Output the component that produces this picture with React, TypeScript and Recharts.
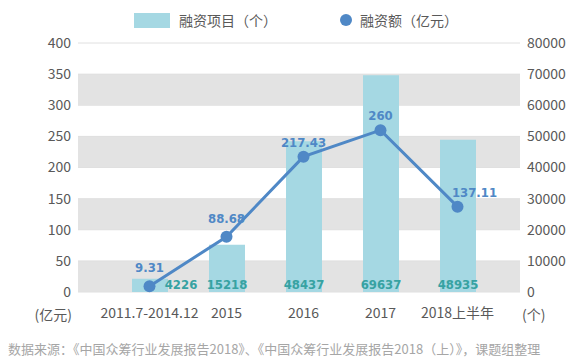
import { ComposedChart, Bar, Line, XAxis, YAxis, CartesianGrid, LabelList } from "recharts";

const categories = ["2011.7-2014.12", "2015", "2016", "2017", "2018上半年"];
const projectCounts = [4226, 15218, 48437, 69637, 48935];
const fundingAmounts = [9.31, 88.68, 217.43, 260, 137.11];
const leftTicks = [0, 50, 100, 150, 200, 250, 300, 350, 400];
const rightTicks = [0, 10000, 20000, 30000, 40000, 50000, 60000, 70000, 80000];

const data = categories.map((name, i) => ({
  name,
  projects: projectCounts[i],
  amount: fundingAmounts[i],
}));

const FONT = "'Noto Sans CJK SC', 'Noto Sans', sans-serif";
const NUM_FONT = "'DejaVu Sans Condensed', 'DejaVu Sans', sans-serif";
const BAR_COLOR = "#a5d8e3";
const LINE_COLOR = "#4f88c6";
const TEXT_COLOR = "#595959";

const BarValueLabel = (props: any) => {
  const { x, y, width, height, value, index } = props;
  const cx = x + width / 2 + (index === 0 ? 31 : 0);
  return (
    <text x={cx} y={y + height - 3} textAnchor="middle" fill="#37a2a2" fontSize={13} fontWeight="bold" fontFamily={NUM_FONT}>
      {value}
    </text>
  );
};

const LineValueLabel = (props: any) => {
  const { x, y, value, index } = props;
  const cx = x + (index === 4 ? 17 : 0);
  const lift = index <= 1 ? 19 : 15;
  return (
    <text x={cx} y={y - lift + 5} textAnchor="middle" fill={LINE_COLOR} fontSize={13} fontWeight="bold" fontFamily={NUM_FONT}>
      {value}
    </text>
  );
};

// unit caption under an axis, anchored to the axis box
const unitLabel = (text: string, anchor: "start" | "end", dx: number) => (props: any) => {
  const { viewBox } = props;
  const x = anchor === "end" ? viewBox.x + viewBox.width + dx : viewBox.x + dx;
  return (
    <text x={x} y={viewBox.y + viewBox.height + 28} textAnchor={anchor} fill={TEXT_COLOR} fontSize={14} fontFamily={FONT}>
      {text}
    </text>
  );
};

export default function App() {
  return (
    <div style={{ position: "absolute", left: 0, top: 0, width: 574, height: 362, background: "#fff", fontFamily: FONT }}>
      <div style={{ position: "absolute", left: 134, top: 13, width: 36, height: 15, background: BAR_COLOR }} />
      <div style={{ position: "absolute", left: 179, top: 9, fontSize: 14, color: TEXT_COLOR, lineHeight: "22px", whiteSpace: "nowrap" }}>
        融资项目（个）
      </div>
      <div style={{ position: "absolute", left: 340, top: 14, width: 12, height: 12, borderRadius: 6, background: LINE_COLOR }} />
      <div style={{ position: "absolute", left: 360, top: 9, fontSize: 14, color: TEXT_COLOR, lineHeight: "22px", whiteSpace: "nowrap" }}>
        融资额（亿元）
      </div>

      <ComposedChart width={574} height={362} data={data} margin={{ top: 43, right: 0, bottom: 40, left: 0 }}>
        <CartesianGrid yAxisId="left" vertical={false} horizontalFill={["#ffffff", "#e3e3e3"]} stroke="#e0e0e0" />
        <XAxis
          dataKey="name"
          axisLine={false}
          tickLine={false}
          tickSize={0}
          tickMargin={16}
          height={30}
          padding={{ left: 33, right: 24 }}
          tick={{ fontSize: 14, fill: TEXT_COLOR, fontFamily: FONT }}
          interval={0}
        />
        <YAxis
          yAxisId="left"
          domain={[0, 400]}
          ticks={leftTicks}
          width={78}
          axisLine={false}
          tickLine={false}
          tickSize={0}
          tickMargin={7}
          tick={{ fontSize: 14, fill: TEXT_COLOR, fontFamily: FONT }}
          label={{ content: unitLabel("(亿元)", "end", -6) }}
        />
        <YAxis
          yAxisId="right"
          orientation="right"
          domain={[0, 80000]}
          ticks={rightTicks}
          width={54}
          axisLine={false}
          tickLine={false}
          tickSize={0}
          tickMargin={7}
          tick={{ fontSize: 14, fill: TEXT_COLOR, fontFamily: FONT, textAnchor: "start" }}
          label={{ content: unitLabel("(个)", "start", 2) }}
        />
        <Bar yAxisId="right" dataKey="projects" fill={BAR_COLOR} barSize={36} isAnimationActive={false}>
          <LabelList dataKey="projects" content={BarValueLabel} />
        </Bar>
        <Line
          yAxisId="left"
          dataKey="amount"
          stroke={LINE_COLOR}
          strokeWidth={3}
          dot={{ r: 6, fill: LINE_COLOR, stroke: LINE_COLOR, strokeWidth: 0 }}
          isAnimationActive={false}
        >
          <LabelList dataKey="amount" content={LineValueLabel} />
        </Line>
      </ComposedChart>

      <div style={{ position: "absolute", left: 8, top: 340, fontSize: 13, color: "#a6a6a6", whiteSpace: "nowrap", lineHeight: "18px" }}>
        数据来源：《中国众筹行业发展报告2018》、《中国众筹行业发展报告2018（上）》，课题组整理
      </div>
    </div>
  );
}
